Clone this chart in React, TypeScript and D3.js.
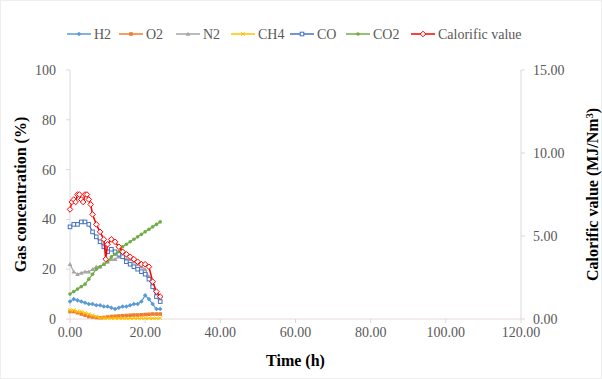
import React from "react";
import * as d3 from "d3";

const times = [0,1,2,3,4,5,6,7,8,9,10,11,12,13,14,15,16,17,18,19,20,21,22,23,24];
const h2 =  [7,8,7.5,7,6.5,6,6,5.5,5.5,5,5,4.5,4,4.5,5,5,5.5,6,6,7,9.5,8,6,4,4];
const o2 =  [3,3,2.5,2,1.5,1,0.8,0.6,0.5,0.6,0.8,1,1.1,1.2,1.3,1.4,1.5,1.6,1.6,1.7,1.8,1.9,2,2,2];
const n2 =  [22,19,18,18.5,19,19,20,21,21,22,23,24,24,25,25,24,24,23,22,21,20,17,14,10,8];
const ch4 = [3.5,3.5,3,3,2.5,2,1.5,1,0.5,0.4,0.3,0.3,0.3,0.3,0.3,0.3,0.3,0.3,0.3,0.3,0.3,0.3,0.3,0.3,0.3];
const co =  [37,38,38,39,39,38,35,33,31,29,27,28,27,26,25,23,22,21,20,19,18,16,13,9,7];
const co2 = [10,11,12,13,14,16,18,20,21,22,23,25,26,27,29,30,31,32,33,34,35,36,37,38,39];
const cvTimes = [0,0.5,1,1.5,2,2.5,3,3.5,4,4.5,5,5.5,6,7,8,9,9.5,10,11,12,13,14,15,16,17,18,19,20,21,22,23,24];
const cv = [6.6,7.05,7.2,7.05,7.5,7.5,7.2,7.05,7.5,7.5,7.2,6.9,6.3,5.7,5.25,4.8,3.6,4.5,4.8,4.65,4.35,4.05,3.9,3.75,3.6,3.45,3.3,3.3,3.15,2.25,1.65,1.35];

const xTicks = [0,20,40,60,80,100,120];
const yTicks = [0,20,40,60,80,100];
const y2Ticks = [0,5,10,15];

const seriesNames = ["H2","O2","N2","CH4","CO","CO2"];
const seriesData = [h2,o2,n2,ch4,co,co2];
const colors = ["#5B9BD5","#ED7D31","#A5A5A5","#FFC000","#4472C4","#70AD47"];
const cvColor = "#FF0000";

export default function App() {
  const W = 602, H = 379;
  const m = { l: 70, r: 81, t: 70, b: 60 };
  const x = d3.scaleLinear().domain([0,120]).range([m.l, W - m.r]);
  const y = d3.scaleLinear().domain([0,100]).range([H - m.b, m.t]);
  const y2 = d3.scaleLinear().domain([0,15]).range([H - m.b, m.t]);
  const font = "'Liberation Serif', 'Times New Roman', Times, serif";

  const line = d3.line<number>().x((_, i) => x(times[i])).y(d => y(d));
  const cvLine = d3.line<number>().x((_, i) => x(cvTimes[i])).y(d => y2(d));

  const marker = (k: number, cx: number, cy: number, c: string, key: string) => {
    const s = 1.8;
    if (k === 0) return <path key={key} d={`M${cx},${cy-s-0.5}L${cx+s+0.5},${cy}L${cx},${cy+s+0.5}L${cx-s-0.5},${cy}Z`} fill={c} />;
    if (k === 1) return <rect key={key} x={cx-s} y={cy-s} width={2*s} height={2*s} fill={c} />;
    if (k === 2) return <path key={key} d={`M${cx},${cy-s-0.5}L${cx+s+0.5},${cy+s}L${cx-s-0.5},${cy+s}Z`} fill={c} />;
    if (k === 3) return <path key={key} d={`M${cx-s},${cy-s}L${cx+s},${cy+s}M${cx+s},${cy-s}L${cx-s},${cy+s}`} stroke={c} strokeWidth={1} />;
    if (k === 4) return <rect key={key} x={cx-s} y={cy-s} width={2*s} height={2*s} fill="white" stroke={c} strokeWidth={1} />;
    if (k === 5) return <circle key={key} cx={cx} cy={cy} r={s} fill={c} />;
    return <path key={key} d={`M${cx},${cy-s-1}L${cx+s+1},${cy}L${cx},${cy+s+1}L${cx-s-1},${cy}Z`} fill="white" stroke={c} strokeWidth={1} />;
  };

  const legendItems = [
    { name: "H2", c: colors[0], k: 0, x0: 67 },
    { name: "O2", c: colors[1], k: 1, x0: 119 },
    { name: "N2", c: colors[2], k: 2, x0: 176 },
    { name: "CH4", c: colors[3], k: 3, x0: 231 },
    { name: "CO", c: colors[4], k: 4, x0: 290 },
    { name: "CO2", c: colors[5], k: 5, x0: 346 },
    { name: "Calorific value", c: cvColor, k: 6, x0: 411 },
  ];
  const ly = 34;

  return (
    <svg width={W} height={H} style={{ position: "absolute", left: 0, top: 0, background: "white", fontFamily: font }}>
      <rect x={0.5} y={0.5} width={W - 1} height={H - 1} fill="white" stroke="#eeeeee" />
      <line x1={m.l} x2={m.l} y1={y(0)} y2={y(100)} stroke="#d9d9d9" />
      <line x1={W - m.r} x2={W - m.r} y1={y(0)} y2={y(100)} stroke="#d9d9d9" />
      <line x1={m.l} x2={W - m.r} y1={y(0)} y2={y(0)} stroke="#ead8dc" />
      {yTicks.map(t => (
        <g key={"y" + t}>
          <line x1={m.l - 4} x2={m.l} y1={y(t)} y2={y(t)} stroke="#d9d9d9" />
          <text x={m.l - 14} y={y(t)} dy="0.35em" textAnchor="end" fontSize={14} style={{ fontFamily: font }} fill="#595959">{t}</text>
        </g>
      ))}
      {y2Ticks.map(t => (
        <g key={"y2" + t}>
          <line x1={W - m.r} x2={W - m.r + 4} y1={y2(t)} y2={y2(t)} stroke="#d9d9d9" />
          <text x={W - m.r + 12} y={y2(t)} dy="0.35em" textAnchor="start" fontSize={14} style={{ fontFamily: font }} fill="#595959">{t.toFixed(2)}</text>
        </g>
      ))}
      {xTicks.map(t => (
        <g key={"x" + t}>
          <line x1={x(t)} x2={x(t)} y1={y(0)} y2={y(0) + 4} stroke="#d9d9d9" />
          <text x={x(t)} y={y(0) + 18} textAnchor="middle" fontSize={14} style={{ fontFamily: font }} fill="#595959">{t.toFixed(2)}</text>
        </g>
      ))}
      <text x={(m.l + W - m.r) / 2} y={H - 13} textAnchor="middle" fontSize={16} fontWeight="bold" style={{ fontFamily: font }} fill="#000">Time (h)</text>
      <text transform={`translate(26,${(y(0) + y(100)) / 2}) rotate(-90)`} textAnchor="middle" fontSize={16} fontWeight="bold" style={{ fontFamily: font }} fill="#000">Gas concentration (%)</text>
      <text transform={`translate(598,${(y(0) + y(100)) / 2}) rotate(-90)`} textAnchor="middle" fontSize={16} fontWeight="bold" style={{ fontFamily: font }} fill="#000">
        Calorific value (MJ/Nm<tspan dy={-5} fontSize={10}>3</tspan><tspan dy={5}>)</tspan>
      </text>
      {seriesData.map((d, si) => (
        <g key={seriesNames[si]}>
          <path d={line(d) || ""} fill="none" stroke={colors[si]} strokeWidth={1.25} />
          {d.map((v, i) => marker(si, x(times[i]), y(v), colors[si], seriesNames[si] + i))}
        </g>
      ))}
      <path d={cvLine(cv) || ""} fill="none" stroke={cvColor} strokeWidth={1.5} />
      {cv.map((v, i) => marker(6, x(cvTimes[i]), y2(v), cvColor, "cv" + i))}
      {legendItems.map(it => (
        <g key={it.name}>
          <line x1={it.x0} x2={it.x0 + 24} y1={ly} y2={ly} stroke={it.c} strokeWidth={1.5} />
          {marker(it.k, it.x0 + 12, ly, it.c, "lg" + it.name)}
          <text x={it.x0 + 27} y={ly} dy="0.35em" fontSize={14} style={{ fontFamily: font }} fill="#595959">{it.name}</text>
        </g>
      ))}
    </svg>
  );
}
